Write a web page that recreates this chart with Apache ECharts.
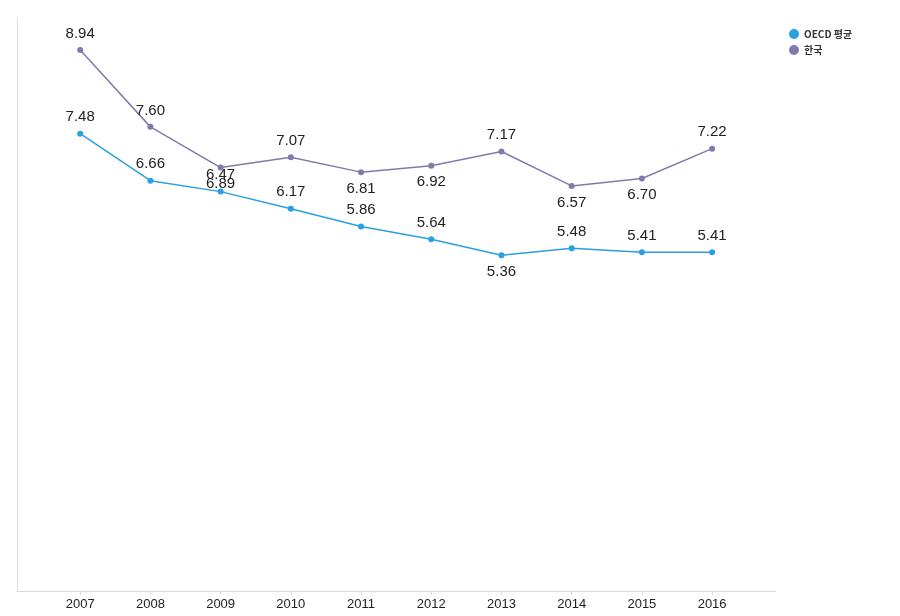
<!DOCTYPE html>
<html><head><meta charset="utf-8">
<script src="https://cdn.jsdelivr.net/npm/echarts@6/dist/echarts.min.js"></script>
<style>html,body{margin:0;padding:0;background:#fff}#c{width:900px;height:616px}</style>
</head><body><div id="c"></div>
<script>
var years = [2007, 2008, 2009, 2010, 2011, 2012, 2013, 2014, 2015, 2016];
var oecd = [7.48, 6.66, 6.47, 6.17, 5.86, 5.64, 5.36, 5.48, 5.41, 5.41];
var korea = [8.94, 7.60, 6.89, 7.07, 6.81, 6.92, 7.17, 6.57, 6.70, 7.22];
var oecdLabelPos = ['top','top','top','top','top','top','bottom','top','top','top'];
var koreaLabelPos = ['top','top','bottom','top','bottom','bottom','top','bottom','bottom','top'];
var seriesNames = ['OECD 평균', '한국'];

function build(vals, pos) {
  return vals.map(function (v, i) {
    return { value: [years[i], v], label: { position: pos[i] } };
  });
}
var chart = echarts.init(document.getElementById('c'));
var lbl = { show: true, fontSize: 15, color: '#222', fontFamily: 'Liberation Sans, Arial, sans-serif', distance: 6,
  formatter: function (p) { return p.value[1].toFixed(2); } };
chart.setOption({
  animation: false,
  grid: { left: 17, right: 124, top: 18, bottom: 25 },
  legend: {
    orient: 'vertical', left: 784, top: 24, itemWidth: 10, itemHeight: 10, itemGap: 6,
    icon: 'circle',
    textStyle: { fontSize: 10, color: '#333', fontWeight: 'bold', fontFamily: 'Noto Sans CJK KR, sans-serif' },
    data: seriesNames
  },
  xAxis: {
    type: 'value', min: 2006.1, max: 2016.91,
    axisLine: { show: true, onZero: false, lineStyle: { color: '#d9d9d9', width: 1 } },
    axisTick: { show: true, customValues: years, length: 4, lineStyle: { color: '#d9d9d9' } },
    axisLabel: { customValues: years, fontSize: 13, color: '#222', margin: 7, fontFamily: 'Liberation Sans, Arial, sans-serif',
      formatter: function (v) { return String(v); } },
    splitLine: { show: false }
  },
  yAxis: {
    type: 'value', min: -0.5, max: 9.5,
    axisLine: { show: true, lineStyle: { color: '#e0e0e0', width: 1 } },
    axisTick: { show: false }, axisLabel: { show: false }, splitLine: { show: false }
  },
  series: [
    { name: seriesNames[0], type: 'line', data: build(oecd, oecdLabelPos), symbol: 'circle', symbolSize: 6,
      itemStyle: { color: '#2a9fe2' }, lineStyle: { width: 1.5, color: '#2a9fe2' }, label: lbl },
    { name: seriesNames[1], type: 'line', data: build(korea, koreaLabelPos), symbol: 'circle', symbolSize: 6,
      itemStyle: { color: '#8479ad' }, lineStyle: { width: 1.5, color: '#8479ad' }, label: lbl }
  ]
});
</script></body></html>
